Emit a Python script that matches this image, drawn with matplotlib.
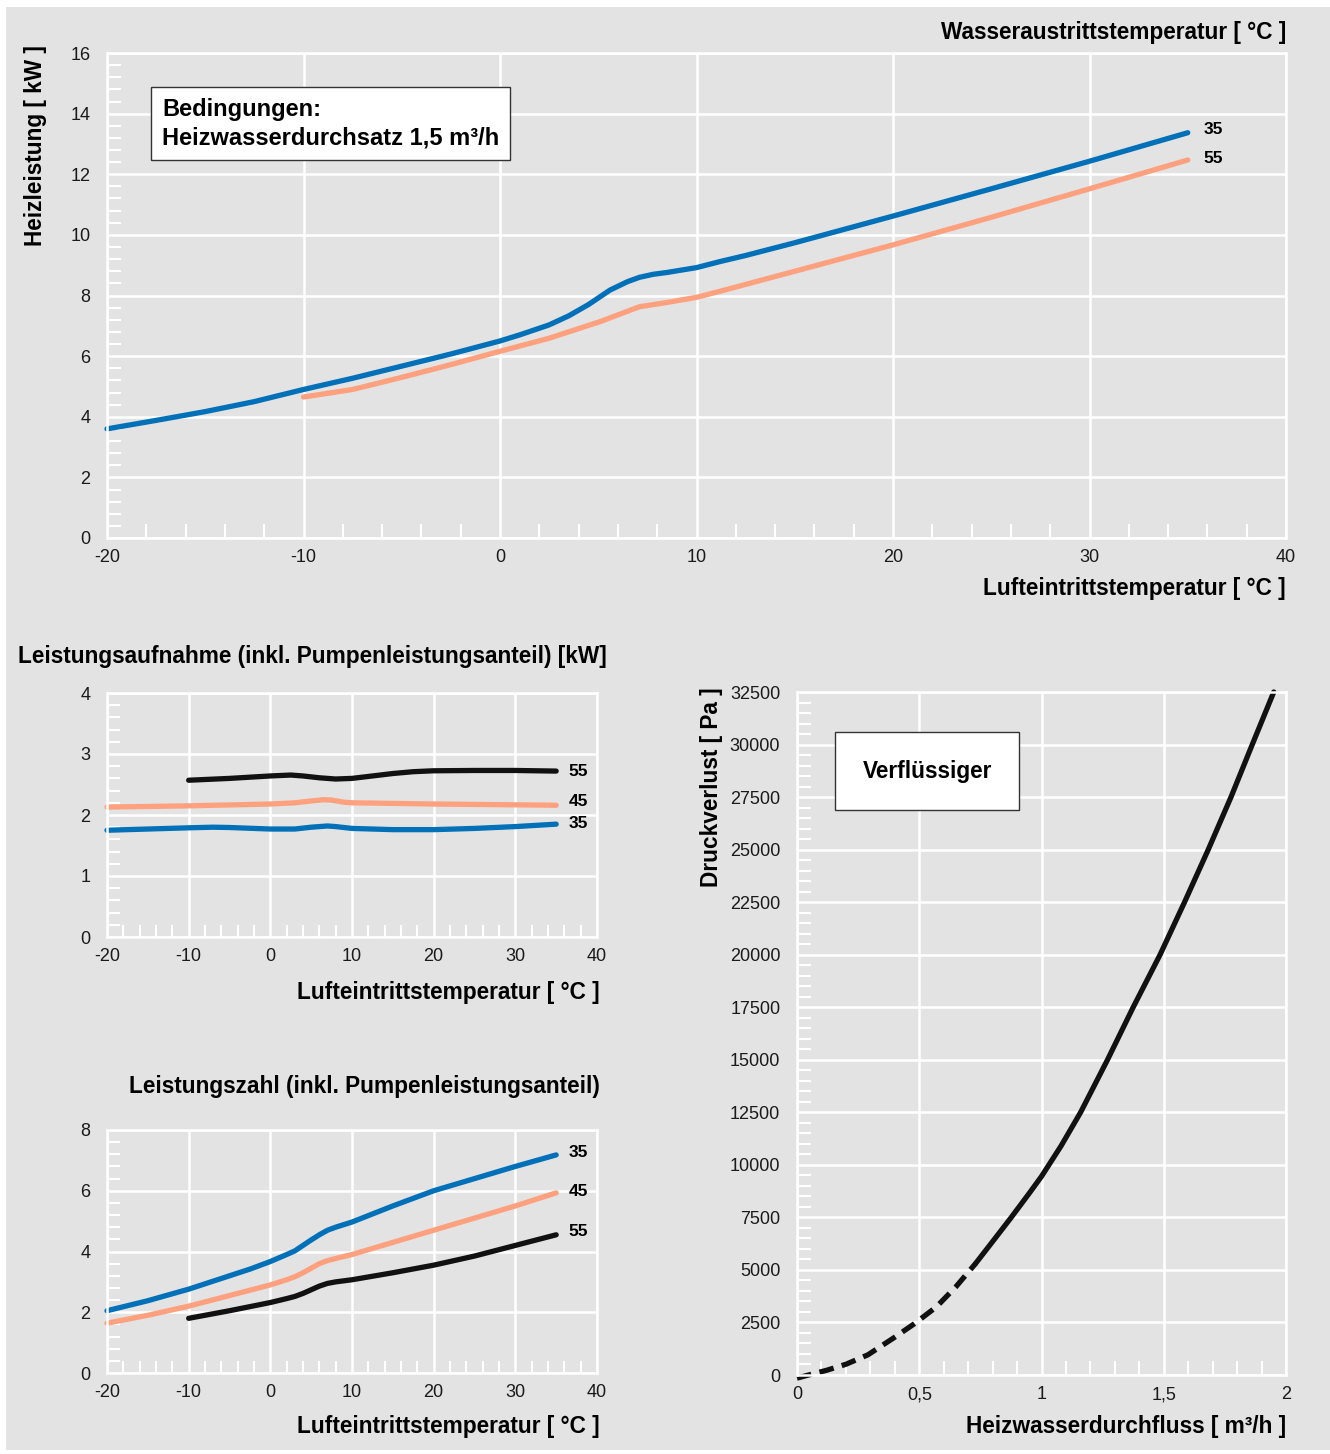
import matplotlib.pyplot as plt
from matplotlib.patches import Rectangle
from matplotlib.ticker import MultipleLocator, FuncFormatter

plt.rcParams['font.family'] = ['Liberation Sans', 'DejaVu Sans']
plt.rcParams['axes.unicode_minus'] = False

BG = '#e3e3e3'
BLUE = '#0070b8'
ORANGE = '#ffa07e'
BLACK = '#111111'

# Heizleistung (top chart)
hl_x35 = [-20, -17.5, -15, -12.5, -10, -7.5, -5, -2.5, 0, 1, 2.5, 3.5, 4.5, 5.6, 6.5,
          7.1, 7.8, 8.5, 10, 11.2, 12.5, 15, 17.5, 20, 25, 30, 35]
hl_y35 = [3.6, 3.88, 4.17, 4.5, 4.9, 5.27, 5.67, 6.07, 6.5, 6.7, 7.03, 7.33, 7.7, 8.18, 8.46,
          8.6, 8.7, 8.76, 8.92, 9.12, 9.32, 9.74, 10.18, 10.62, 11.52, 12.43, 13.37]
hl_x55 = [-10, -7.5, -5, -2.5, 0, 2.5, 5.1, 7.1, 8.5, 10, 11.2, 15, 20, 25, 30, 35]
hl_y55 = [4.65, 4.9, 5.3, 5.72, 6.16, 6.59, 7.14, 7.63, 7.77, 7.94, 8.14, 8.8, 9.67, 10.58, 11.52, 12.47]

# Leistungsaufnahme
la_x55 = [-10, -5, 0, 2.5, 4, 6, 8, 10, 12.5, 15, 17.5, 20, 25, 30, 35]
la_y55 = [2.57, 2.6, 2.64, 2.655, 2.64, 2.61, 2.59, 2.6, 2.64, 2.68, 2.71, 2.725, 2.73, 2.73, 2.72]
la_x45 = [-20, -10, 0, 3, 5, 6.5, 7.5, 9, 10, 20, 35]
la_y45 = [2.13, 2.15, 2.18, 2.2, 2.23, 2.25, 2.245, 2.21, 2.2, 2.18, 2.16]
la_x35 = [-20, -10, -7, -5, 0, 3, 5, 7, 8, 10, 15, 20, 25, 30, 35]
la_y35 = [1.75, 1.79, 1.8, 1.795, 1.77, 1.77, 1.8, 1.82, 1.81, 1.78, 1.76, 1.76, 1.78, 1.81, 1.85]

# Leistungszahl
lz_x35 = [-20, -15, -10, -5, -2.5, 0, 2, 3, 4, 5, 6, 7, 8, 10, 15, 20, 25, 30, 35]
lz_y35 = [2.05, 2.38, 2.76, 3.2, 3.42, 3.67, 3.9, 4.02, 4.2, 4.38, 4.55, 4.7, 4.8, 4.97,
          5.5, 6.0, 6.4, 6.8, 7.18]
lz_x45 = [-20, -15, -10, -5, 0, 2, 3, 4, 5, 6, 7, 8, 10, 15, 20, 25, 30, 35]
lz_y45 = [1.64, 1.9, 2.2, 2.55, 2.9, 3.07, 3.17, 3.3, 3.45, 3.6, 3.7, 3.77, 3.9, 4.3, 4.7,
          5.1, 5.5, 5.93]
lz_x55 = [-10, -5, 0, 2, 3, 4, 5, 6, 7, 8, 10, 15, 20, 25, 30, 35]
lz_y55 = [1.8, 2.05, 2.32, 2.45, 2.52, 2.62, 2.74, 2.86, 2.95, 3.0, 3.07, 3.3, 3.55, 3.85,
          4.2, 4.55]

# Druckverlust Verfluessiger
dv_x_dash = [0, 0.06, 0.12, 0.2, 0.29, 0.4, 0.48, 0.57, 0.65, 0.73]
dv_y_dash = [-150, 40, 220, 510, 960, 1800, 2440, 3240, 4200, 5300]
dv_x_solid = [0.73, 0.8, 0.873, 0.95, 1.0, 1.08, 1.16, 1.27, 1.375, 1.485, 1.585, 1.682,
              1.775, 1.862, 1.95]
dv_y_solid = [5300, 6350, 7450, 8650, 9450, 10900, 12500, 15000, 17500, 20000, 22500,
              25000, 27500, 30000, 32500]

W, H = 1330, 1454
fig = plt.figure(figsize=(W / 100, H / 100), dpi=100, facecolor='white')
fig.patches.append(Rectangle((6 / W, 4 / H), 1, 1 - 11 / H, transform=fig.transFigure,
                             facecolor=BG, edgecolor='none', zorder=-10))

LBL = 16.3
TICK = 13
CURVE = 12.5


def px(x0, y0, x1, y1):
    return [x0 / W, 1 - y1 / H, (x1 - x0) / W, (y1 - y0) / H]


def style(ax, xminor, yminor, tlen=10):
    ax.set_facecolor(BG)
    for s in ax.spines.values():
        s.set_color('white')
        s.set_linewidth(1.8)
    ax.grid(True, which='major', color='white', linewidth=1.8)
    ax.set_axisbelow(True)
    ax.xaxis.set_minor_locator(MultipleLocator(xminor))
    ax.yaxis.set_minor_locator(MultipleLocator(yminor))
    ax.tick_params(which='major', length=0, labelsize=TICK, colors='#1a1a1a')
    ax.tick_params(axis='y', which='major', pad=12)
    ax.tick_params(axis='x', which='major', pad=8)
    ax.tick_params(which='minor', direction='in', length=tlen, width=1.5, color='white')


lw = 3.8

# ---- top chart
ax = fig.add_axes(px(107, 53, 1286, 538))
style(ax, 2, 0.4)
ax.set_xlim(-20, 40)
ax.set_ylim(0, 16)
ax.xaxis.set_major_locator(MultipleLocator(10))
ax.yaxis.set_major_locator(MultipleLocator(2))
ax.plot(hl_x35, hl_y35, color=BLUE, lw=lw, solid_capstyle='round', clip_on=False)
ax.plot(hl_x55, hl_y55, color=ORANGE, lw=lw, solid_capstyle='round', clip_on=False)
ax.text(35.8, hl_y35[-1] + 0.1, '35', fontsize=CURVE, fontweight='bold', va='center')
ax.text(35.8, hl_y55[-1] + 0.05, '55', fontsize=CURVE, fontweight='bold', va='center')
ax.text(-17.2, 13.68, 'Bedingungen:\nHeizwasserdurchsatz 1,5 m³/h', fontsize=17,
        fontweight='bold', va='center', ha='left', linespacing=1.3,
        bbox=dict(boxstyle='square,pad=0.45', facecolor='white', edgecolor='#333333', linewidth=1))
ax.set_ylabel('Heizleistung [ kW ]', fontsize=LBL, fontweight='bold')
ax.yaxis.set_label_coords(-0.051, 0.81)
fig.text(1286 / W, 1 - 32 / H, 'Wasseraustrittstemperatur [ °C ]', fontsize=LBL,
         fontweight='bold', ha='right', va='center')
fig.text(1286 / W, 1 - 588 / H, 'Lufteintrittstemperatur [ °C ]', fontsize=LBL,
         fontweight='bold', ha='right', va='center')

# ---- Leistungsaufnahme
ax = fig.add_axes(px(107, 693, 597, 937))
style(ax, 2, 0.2, tlen=9)
ax.set_xlim(-20, 40)
ax.set_ylim(0, 4)
ax.xaxis.set_major_locator(MultipleLocator(10))
ax.yaxis.set_major_locator(MultipleLocator(1))
ax.plot(la_x55, la_y55, color=BLACK, lw=lw, solid_capstyle='round', clip_on=False)
ax.plot(la_x45, la_y45, color=ORANGE, lw=lw, solid_capstyle='round', clip_on=False)
ax.plot(la_x35, la_y35, color=BLUE, lw=lw, solid_capstyle='round', clip_on=False)
ax.text(36.5, 2.72, '55', fontsize=CURVE, fontweight='bold', va='center')
ax.text(36.5, 2.22, '45', fontsize=CURVE, fontweight='bold', va='center')
ax.text(36.5, 1.86, '35', fontsize=CURVE, fontweight='bold', va='center')
fig.text(18 / W, 1 - 656 / H, 'Leistungsaufnahme (inkl. Pumpenleistungsanteil) [kW]',
         fontsize=LBL, fontweight='bold', ha='left', va='center')
fig.text(600 / W, 1 - 992 / H, 'Lufteintrittstemperatur [ °C ]', fontsize=LBL,
         fontweight='bold', ha='right', va='center')

# ---- Leistungszahl
ax = fig.add_axes(px(107, 1130, 597, 1373))
style(ax, 2, 0.4, tlen=9)
ax.set_xlim(-20, 40)
ax.set_ylim(0, 8)
ax.xaxis.set_major_locator(MultipleLocator(10))
ax.yaxis.set_major_locator(MultipleLocator(2))
ax.plot(lz_x35, lz_y35, color=BLUE, lw=lw, solid_capstyle='round', clip_on=False)
ax.plot(lz_x45, lz_y45, color=ORANGE, lw=lw, solid_capstyle='round', clip_on=False)
ax.plot(lz_x55, lz_y55, color=BLACK, lw=lw, solid_capstyle='round', clip_on=False)
ax.text(36.5, 7.25, '35', fontsize=CURVE, fontweight='bold', va='center')
ax.text(36.5, 5.98, '45', fontsize=CURVE, fontweight='bold', va='center')
ax.text(36.5, 4.65, '55', fontsize=CURVE, fontweight='bold', va='center')
fig.text(600 / W, 1 - 1087 / H, 'Leistungszahl (inkl. Pumpenleistungsanteil)',
         fontsize=LBL, fontweight='bold', ha='right', va='center')
fig.text(600 / W, 1 - 1426 / H, 'Lufteintrittstemperatur [ °C ]', fontsize=LBL,
         fontweight='bold', ha='right', va='center')

# ---- Druckverlust
ax = fig.add_axes(px(797, 692, 1286, 1375))
style(ax, 0.1, 500, tlen=10)
ax.set_xlim(0, 2)
ax.set_ylim(0, 32500)
ax.xaxis.set_major_locator(MultipleLocator(0.5))
ax.yaxis.set_major_locator(MultipleLocator(2500))
ax.xaxis.set_major_formatter(FuncFormatter(lambda v, p: f'{v:g}'.replace('.', ',')))
ax.plot(dv_x_dash, dv_y_dash, color=BLACK, lw=lw, ls=(0, (2.8, 1.6)), clip_on=False)
ax.plot(dv_x_solid, dv_y_solid, color=BLACK, lw=lw, solid_capstyle='round', clip_on=False)
ax.text(0.532, 28740, 'Verflüssiger', fontsize=LBL, fontweight='bold', ha='center', va='center',
        bbox=dict(boxstyle='square,pad=1.2', facecolor='white', edgecolor='#333333', linewidth=1))
ax.set_ylabel('Druckverlust [ Pa ]', fontsize=LBL, fontweight='bold')
ax.yaxis.set_label_coords(-0.151, 0.86)
fig.text(1286 / W, 1 - 1426 / H, 'Heizwasserdurchfluss [ m³/h ]', fontsize=LBL,
         fontweight='bold', ha='right', va='center')

fig.savefig('out.png', dpi=100, facecolor='white')
